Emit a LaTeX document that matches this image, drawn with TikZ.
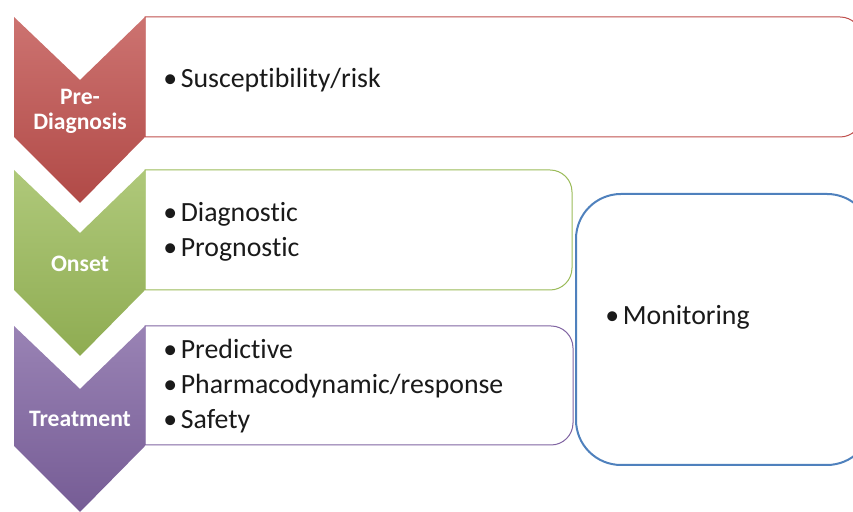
\documentclass[tikz,border=0pt]{standalone}
\usepackage{fontspec}
\setmainfont{Carlito}[Ligatures=NoCommon]
\usetikzlibrary{positioning}
\definecolor{pdred}{HTML}{C0504D}
\definecolor{pdgreen}{HTML}{9BBB59}
\definecolor{pdpurple}{HTML}{8064A2}
\definecolor{pdblue}{HTML}{4F81BD}
\definecolor{pdtext}{HTML}{1A1A1A}
\newcommand{\itm}{\textbullet\hspace{1.8pt}}
\tikzset{
  phase/.style={font=\fontsize{11.8}{12.5}\selectfont\bfseries, text=white, align=center, inner sep=0pt},
  items/.style={font=\fontsize{13.9}{17.5}\selectfont, text=pdtext, align=left, anchor=west, inner sep=0pt},
}
\begin{document}
\begin{tikzpicture}[x=0.5pt,y=0.5pt]
\useasboundingbox (0,0) rectangle (853,512);
\clip (0,0) rectangle (853,512);

\foreach \xa/\ya/\xb/\yb/\c in {145/375/862/495/pdred, 145/222/572/342/pdgreen, 145/67/573/186/pdpurple}
\draw[\c, line width=0.5pt, fill=white] (\xa,\yb) -- (\xb-22,\yb) arc[start angle=90, end angle=0, radius=22] -- (\xb,\ya+22) arc[start angle=0, end angle=-90, radius=22] -- (\xa,\ya) -- cycle;
\draw[pdblue, line width=1pt, fill=white, rounded corners=22.5pt] (576,47) rectangle (872,318);

\foreach \t/\c in {495/pdred, 342/pdgreen, 186/pdpurple}
\shade[top color=\c!80!white, bottom color=\c!92!black] (14,\t) -- (80,\t-63) -- (145,\t) -- (145,\t-120) -- (80,\t-186) -- (14,\t-120) -- cycle;

\node[phase] (prediag) at (80,401) {Pre-\\Diagnosis};
\node[phase] (onset) at (80,248) {Onset};
\node[phase] (treat) at (80,93) {Treatment};

\node[items] (risk) at (163,432) {\itm Susceptibility/risk};
\node[items] (dxitems) at (163,280.5) {\itm Diagnostic\\\itm Prognostic};
\node[items] (txitems) at (163,126) {\itm Predictive\\\itm Pharmacodynamic/response\\\itm Safety};
\node[items] (monitor) at (605,195) {\itm Monitoring};
\end{tikzpicture}
\end{document}
